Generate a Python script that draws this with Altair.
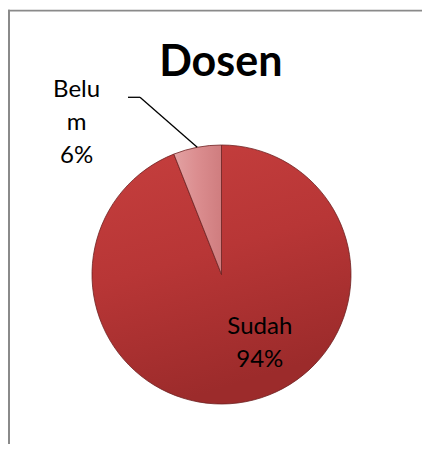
import altair as alt
import pandas as pd

# ---- data ----
categories = ["Sudah", "Belum"]
values = [94, 6]
label_texts = ["Sudah\n94%", "Belu\nm\n6%"]
title_text = "Dosen"

df = pd.DataFrame({
    "idx": list(range(len(categories))),
    "cat": categories,
    "value": values,
    "label": label_texts,
})

# ---- layout constants (view pixel space) ----
W, H = 414, 436
CX, CY, R = 213.5, 266.5, 129.5
FONT = "Lato"

grad_sudah = {
    "gradient": "linear", "x1": 0, "y1": 0, "x2": 0.3, "y2": 1,
    "stops": [
        {"offset": 0, "color": "#C63F3E"},
        {"offset": 0.5, "color": "#B83636"},
        {"offset": 1, "color": "#9C2B2B"},
    ],
}
grad_belum = {
    "gradient": "linear", "x1": 0, "y1": 0, "x2": 1, "y2": 0,
    "stops": [
        {"offset": 0, "color": "#E3A2A3"},
        {"offset": 0.5, "color": "#DB8D8F"},
        {"offset": 1, "color": "#CF7D7F"},
    ],
}

base = alt.Chart(df)

pie = base.mark_arc(radius=R, stroke="#6E2222", strokeWidth=0.8).encode(
    theta=alt.Theta("value:Q", stack=True),
    order=alt.Order("idx:Q"),
    x=alt.value(CX),
    y=alt.value(CY),
    color=alt.condition(alt.datum.cat == "Sudah", alt.value(grad_sudah), alt.value(grad_belum)),
)

title = base.transform_filter(alt.datum.idx == 0).mark_text(
    text=title_text, font=FONT, fontSize=43, fontWeight="bold", color="#000000",
    align="center", baseline="alphabetic",
).encode(x=alt.value(212.8), y=alt.value(68))

lab_sudah = base.transform_filter(alt.datum.cat == "Sudah").mark_text(
    font=FONT, fontSize=24, color="#000000", align="center", baseline="alphabetic",
    lineBreak="\n", lineHeight=33,
).encode(text="label:N", x=alt.value(251.8), y=alt.value(325.5))

lab_belum = base.transform_filter(alt.datum.cat == "Belum").mark_text(
    font=FONT, fontSize=24, color="#000000", align="center", baseline="alphabetic",
    lineBreak="\n", lineHeight=33,
).encode(text="label:N", x=alt.value(68.6), y=alt.value(89.3))

leader = base.transform_joinaggregate(
    total="sum(value)"
).transform_window(
    cum="sum(value)", sort=[alt.SortField("idx")], frame=[None, 0]
).transform_filter(
    alt.datum.cat == "Belum"
).transform_calculate(
    ang="2*PI*(datum.cum - datum.value/2)/datum.total",
    px=f"{CX} + {R}*sin(datum.ang)",
    py=f"{CY} - {R}*cos(datum.ang)",
).mark_rule(color="#000000", strokeWidth=1.3).encode(
    x=alt.X("px:Q", scale=None),
    y=alt.Y("py:Q", scale=None),
    x2=alt.value(132),
    y2=alt.value(89.3),
)

leader_h = base.transform_filter(alt.datum.cat == "Belum").mark_rule(
    color="#000000", strokeWidth=1.3
).encode(x=alt.value(120), x2=alt.value(132), y=alt.value(89.3))

border_left = base.transform_filter(alt.datum.idx == 0).mark_rule(
    color="#8A8A8A", strokeWidth=2
).encode(x=alt.value(1), y=alt.value(1.8), y2=alt.value(H))

border_top = base.transform_filter(alt.datum.idx == 0).mark_rule(
    color="#8A8A8A", strokeWidth=1.6
).encode(y=alt.value(2.6), x=alt.value(0), x2=alt.value(W))

chart = alt.layer(
    border_left, border_top, pie, leader, leader_h, title, lab_sudah, lab_belum
).properties(
    width=W, height=H, padding=0, autosize=alt.AutoSizeParams(type="none"),
    background="#FFFFFF",
).configure_view(stroke=None)

chart.save("out.html", embed_options={"renderer": "svg", "actions": False})
